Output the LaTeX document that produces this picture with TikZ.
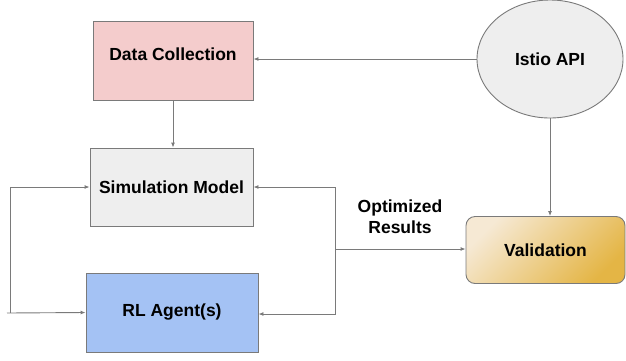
\documentclass[tikz,border=0pt]{standalone}
\usepackage{fontspec}
\setmainfont{Liberation Sans}
\usepackage{tikz}
\usetikzlibrary{shapes.geometric}
\usetikzlibrary{arrows.meta}
\usetikzlibrary{calc}
\usetikzlibrary{positioning}
\definecolor{LightRed}{HTML}{F4CCCC}
\definecolor{LightGray}{HTML}{EEEEEE}
\definecolor{LightBlue}{HTML}{A4C2F4}
\definecolor{LightGold}{HTML}{F6E9D4}
\definecolor{DarkGold}{HTML}{E4B545}
\definecolor{LineGray}{HTML}{7A7A7A}

\tikzset{
  box/.style={draw=LineGray, line width=0.9pt, inner sep=0pt,
    font=\fontsize{17.5}{21}\selectfont\bfseries},
  conn/.style={draw=LineGray, line width=0.9pt,
    -{Latex[length=5pt,width=4pt]}},
  wire/.style={draw=LineGray, line width=0.9pt}
}

\begin{document}
\begin{tikzpicture}[x=1pt, y=-1pt]

% picture frame
\useasboundingbox (0,0) rectangle (626,360);

% boxes on the left
\node[box, fill=LightRed, minimum width=160pt, minimum height=79pt, text depth=12pt]
  (data) at (173,60.5) {Data Collection};
\node[box, fill=LightGray, minimum width=163pt, minimum height=78pt]
  (sim) at (171.5,187) {Simulation Model};
\node[box, fill=LightBlue, minimum width=172pt, minimum height=79pt]
  (agent) at (172,312.5) {RL Agent(s)};

% Istio ellipse
\node[box, ellipse, fill=LightGray, minimum width=146pt, minimum height=118pt]
  (istio) at (550,59) {Istio API};

% Validation box
\node[box, rounded corners=9pt, top color=LightGold, bottom color=DarkGold,
  shading angle=45, minimum width=159pt, minimum height=67pt]
  (valid) at (545.5,250) {Validation};

% label
\node[font=\fontsize{17.5}{21}\selectfont\bfseries, align=center]
  (opt) at (400,217) {Optimized\\Results};

% straight arrows
\draw[conn] (istio.west) -- (istio.west -| data.east);
\draw[conn] (data.south) -- (data.south |- sim.north);
\draw[conn] (istio.south) -- (istio.south |- valid.north);

% left loop
\coordinate (lt) at (10,187);
\coordinate (lb) at (10,313);
\coordinate (lbs) at (7,313);
\draw[conn] (lt) -- (sim.west);
\draw[wire] (lt) -- (lb);
\draw[conn] (lbs) -- (agent.west);

% right loop
\coordinate (rt) at (335,187);
\coordinate (rb) at (335,314);
\coordinate (rm) at (335,249);
\draw[conn] (rt) -- (sim.east);
\draw[conn] (rt) -- (rb) -- (agent.east |- rb);
\draw[conn] (rm) -- (rm -| valid.west);

\end{tikzpicture}
\end{document}
